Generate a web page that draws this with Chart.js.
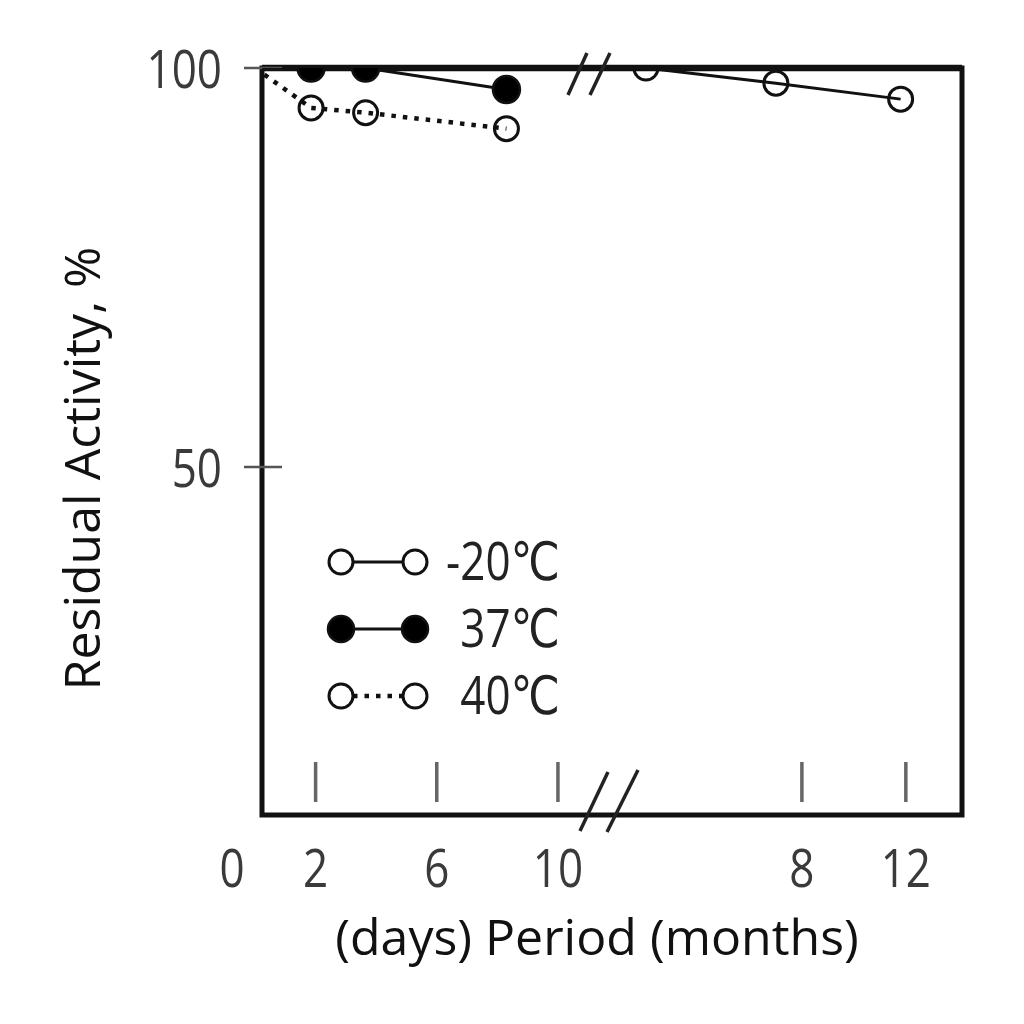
<!DOCTYPE html>
<html>
<head>
<meta charset="utf-8">
<script src="https://cdn.jsdelivr.net/npm/chart.js@4.4.1/dist/chart.umd.min.js"></script>
<style>
  html, body { margin: 0; padding: 0; background: #fff; }
  #wrap { width: 1024px; height: 1024px; }
</style>
</head>
<body>
<div id="wrap"><canvas id="stability" width="1024" height="1024"></canvas></div>
<script>
// -20C storage is read in months, 37C and 40C in days
var months20 = [2, 7, 11.8];
var activity20 = [100, 98.1, 96.1];
var days37 = [0, 1.85, 3.65, 8.3];
var activity37 = [100, 100, 100, 97.3];
var days40 = [0, 1.85, 3.65, 8.3];
var activity40 = [100, 95.0, 94.4, 92.4];

var seriesLabels = ["-20\u2103", "37\u2103", "40\u2103"];
var dayTicks = [0, 2, 6, 10];
var monthTicks = [8, 12];
var yTicks = [50, 100];
var xTitle = "(days) Period (months)";
var yTitle = "Residual Activity, %";

// broken x axis: axis units are days, the months part starts after the break
var MONTH_START = 11.19;  // where month 0 sits
var MONTH_WIDTH = 0.858;  // axis units per month
function monthPos(m) { return MONTH_START + m * MONTH_WIDTH; }

function toPoints(xs, ys, fx) {
  return xs.map(function (v, i) { return { x: fx ? fx(v) : v, y: ys[i] }; });
}

var TICK_FONT = "44px 'Open Sans', 'DejaVu Sans', sans-serif";
var TITLE_FONT = "50px 'Open Sans', 'DejaVu Sans', sans-serif";

// text in the reference is tall and narrow, so stretch it a bit vertically
function tallText(ctx, txt, x, y, font, align, sy, color) {
  ctx.save();
  ctx.font = font;
  ctx.fillStyle = color;
  ctx.textAlign = align;
  ctx.textBaseline = "alphabetic";
  ctx.translate(x, y);
  ctx.scale(1, sy);
  ctx.fillText(txt, 0, 0);
  ctx.restore();
}

function line(ctx, x1, y1, x2, y2) {
  ctx.beginPath();
  ctx.moveTo(x1, y1);
  ctx.lineTo(x2, y2);
  ctx.stroke();
}

// frame, tick marks and break marks go under the markers
var framePlugin = {
  id: "frame",
  beforeDatasetsDraw: function (chart) {
    var ctx = chart.ctx, a = chart.chartArea;
    var xs = chart.scales.x, ys = chart.scales.y;
    ctx.save();
    ctx.strokeStyle = "#111";
    ctx.lineWidth = 5;
    ctx.strokeRect(a.left, a.top, a.right - a.left, a.bottom - a.top);
    // the 100 % level is drawn heavier where the curves run along it
    ctx.lineWidth = 6.5;
    line(ctx, a.left, a.top, a.right, a.top);

    ctx.strokeStyle = "#555";
    ctx.lineWidth = 2.5;
    yTicks.forEach(function (v) {
      var py = ys.getPixelForValue(v);
      line(ctx, a.left - 18, py, a.left + 20, py);
    });

    ctx.strokeStyle = "#666";
    ctx.lineWidth = 3.5;
    var inner = dayTicks.filter(function (d) { return d > 0; })
      .concat(monthTicks.map(monthPos));
    inner.forEach(function (v) {
      var px = xs.getPixelForValue(v);
      line(ctx, px, a.bottom - 53, px, a.bottom - 13);
    });

    // axis break "//"
    var bx = xs.getPixelForValue(MONTH_START);
    ctx.strokeStyle = "#222";
    ctx.lineWidth = 3.5;
    var tx = bx - 5, ty = a.top + 6;
    line(ctx, tx - 21, ty + 21, tx - 2, ty - 21);
    line(ctx, tx + 1, ty + 21, tx + 21, ty - 21);
    var gx = bx + 14, gy = a.bottom - 14;
    line(ctx, gx - 28, gy + 30, gx, gy - 29);
    line(ctx, gx - 1, gy + 31, gx + 30, gy - 31);
    ctx.restore();
  }
};

var labelPlugin = {
  id: "labels",
  afterDraw: function (chart) {
    var ctx = chart.ctx, a = chart.chartArea;
    var xs = chart.scales.x, ys = chart.scales.y;

    yTicks.forEach(function (v) {
      tallText(ctx, String(v), a.left - 40, ys.getPixelForValue(v) + 20, TICK_FONT, "right", 1.2, "#3a3a3a");
    });

    dayTicks.forEach(function (d) {
      var px = xs.getPixelForValue(d);
      if (d === 0) px -= 23;
      tallText(ctx, String(d), px, a.bottom + 72, TICK_FONT, "center", 1.2, "#3a3a3a");
    });
    monthTicks.forEach(function (m) {
      tallText(ctx, String(m), xs.getPixelForValue(monthPos(m)), a.bottom + 72, TICK_FONT, "center", 1.2, "#3a3a3a");
    });

    tallText(ctx, xTitle, (a.left + a.right) / 2 - 15, a.bottom + 140, TITLE_FONT, "center", 1.0, "#111");

    ctx.save();
    ctx.translate(100, (a.top + a.bottom) / 2 + 27);
    ctx.rotate(-Math.PI / 2);
    tallText(ctx, yTitle, 0, 0, TITLE_FONT, "center", 1.0, "#111");
    ctx.restore();

    // legend inside the plot, lower left
    chart.data.datasets.forEach(function (ds, i) {
      var cy = a.bottom - 253 + i * 67;
      var x1 = a.left + 79, x2 = a.left + 153, r = ds.legendRadius;
      ctx.save();
      ctx.strokeStyle = ds.borderColor;
      ctx.lineWidth = ds.borderWidth;
      ctx.setLineDash(ds.borderDash || []);
      line(ctx, x1 + r, cy, x2 - r, cy);
      ctx.setLineDash([]);
      ctx.lineWidth = ds.pointBorderWidth;
      ctx.fillStyle = ds.legendFill;
      [x1, x2].forEach(function (cx) {
        ctx.beginPath();
        ctx.arc(cx, cy, r, 0, Math.PI * 2);
        ctx.fill();
        ctx.stroke();
      });
      ctx.restore();
      tallText(ctx, ds.label, a.left + 298, cy + 18, TICK_FONT, "right", 1.2, "#222");
    });
  }
};

new Chart(document.getElementById("stability"), {
  type: "line",
  data: {
    datasets: [{
      label: seriesLabels[0],
      data: toPoints(months20, activity20, monthPos),
      borderColor: "#111",
      borderWidth: 3,
      pointRadius: 12,
      pointBorderWidth: 3,
      pointBackgroundColor: "rgba(255,255,255,0)",
      pointBorderColor: "#111",
      legendFill: "#fff",
      legendRadius: 12
    }, {
      label: seriesLabels[1],
      data: toPoints(days37, activity37),
      borderColor: "#111",
      borderWidth: 3,
      pointRadius: [0, 13.5, 13.5, 13.5],
      pointBorderWidth: 2.5,
      pointBackgroundColor: "#000",
      pointBorderColor: "#111",
      legendFill: "#000",
      legendRadius: 13
    }, {
      label: seriesLabels[2],
      data: toPoints(days40, activity40),
      borderColor: "#111",
      borderWidth: 4.5,
      borderDash: [4.5, 7],
      pointRadius: [0, 12, 12, 12],
      pointBorderWidth: 3,
      pointBackgroundColor: "rgba(255,255,255,0)",
      pointBorderColor: "#111",
      legendFill: "#fff",
      legendRadius: 12,
      clip: { left: 0, top: 30, right: 30, bottom: 30 }
    }]
  },
  options: {
    responsive: false,
    animation: false,
    devicePixelRatio: 1,
    layout: { padding: { left: 262, right: 62, top: 68, bottom: 209 } },
    elements: { line: { tension: 0 } },
    plugins: { legend: { display: false }, tooltip: { enabled: false } },
    scales: {
      x: { type: "linear", min: 0.23, max: 23.34, display: false },
      y: { type: "linear", min: 6.4, max: 100, display: false }
    }
  },
  plugins: [framePlugin, labelPlugin]
});
</script>
</body>
</html>
